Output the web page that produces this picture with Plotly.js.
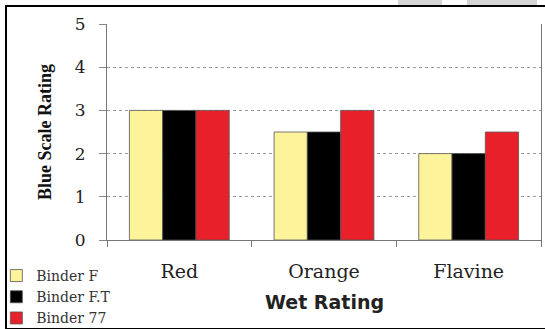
<!DOCTYPE html>
<html>
<head>
<meta charset="utf-8">
<script src="https://cdn.plot.ly/plotly-3.0.1.min.js"></script>
<style>
  html, body { margin: 0; padding: 0; background: #fff; }
  #wrap { position: relative; width: 545px; height: 329px; overflow: hidden; }
  #chart { position: absolute; left: 0; top: 0; width: 545px; height: 329px; }
  /* outer frame around the figure */
  #frame {
    position: absolute; left: 5px; top: 5px; width: 560px; height: 321px;
    border: 2px solid #000; pointer-events: none;
  }
  .tab { position: absolute; top: 0; height: 5px; background: #d4d4d4; }
</style>
</head>
<body>
<div id="wrap">
  <div id="chart"></div>
  <div id="frame"></div>
  <div class="tab" style="left:398px;width:44px"></div>
  <div class="tab" style="left:467px;width:70px"></div>
</div>
<script>
// Wet rating results on the blue scale, per dye and binder
const categories = ["Red", "Orange", "Flavine"];
const seriesNames = ["Binder F", "Binder F.T", "Binder 77"];
const binderF = [3, 2.5, 2];
const binderFT = [3, 2.5, 2];
const binder77 = [3, 3, 2.5];
const yTicks = [0, 1, 2, 3, 4, 5];
const xTitle = "Wet Rating";

const colors = ["#FDF39B", "#000000", "#E8202A"];
const values = [binderF, binderFT, binder77];

const traces = values.map((v, i) => ({
  type: "bar",
  name: seriesNames[i],
  x: categories,
  y: v,
  marker: { color: colors[i], line: { color: "#555", width: 0.8 } },
  hoverinfo: "skip"
}));

const serif = "DejaVu Serif, Liberation Serif, serif";

const layout = {
  width: 545,
  height: 329,
  margin: { l: 107, r: 4, t: 24, b: 89, autoexpand: false },
  paper_bgcolor: "#fff",
  plot_bgcolor: "#fff",
  barmode: "group",
  bargap: 0.31,
  bargroupgap: 0,
  showlegend: true,
  legend: {
    xref: "paper", yref: "paper",
    x: -0.255, y: -0.435, xanchor: "left", yanchor: "bottom",
    orientation: "v",
    font: { family: serif, size: 14, color: "#333" },
    bgcolor: "rgba(0,0,0,0)",
    itemwidth: 30,
    tracegroupgap: 0
  },
  // category-axis title, set just under the tick labels
  annotations: [{
    text: xTitle,
    xref: "paper", yref: "paper",
    x: 0.502, y: -0.287, xanchor: "center", yanchor: "middle",
    showarrow: false,
    font: { family: "DejaVu Sans, Arial, sans-serif", size: 19, color: "#222", weight: "bold" }
  }],
  xaxis: {
    type: "category",
    automargin: false,
    showline: true, linecolor: "#777", linewidth: 1,
    ticks: "outside", ticklen: 6, tickcolor: "#777",
    tickson: "boundaries",
    showgrid: false,
    tickfont: { family: serif, size: 19, color: "#222" },
    ticklabelstandoff: 14
  },
  yaxis: {
    range: [0, 5],
    automargin: false,
    tickvals: yTicks,
    ticktext: yTicks.map(String),
    showline: true, linecolor: "#777", linewidth: 1,
    mirror: true,
    ticks: "outside", ticklen: 7, tickcolor: "#888",
    ticklabelstandoff: 10,
    showgrid: true, gridcolor: "#999", gridwidth: 1, griddash: "dot",
    zeroline: false,
    tickfont: { family: serif, size: 17, color: "#222" },
    title: {
      text: "Blue Scale Rating",
      font: { family: "Liberation Serif, serif", size: 18, color: "#111", weight: "bold" },
      standoff: 18
    }
  }
};

Plotly.newPlot("chart", traces, layout, { displayModeBar: false, staticPlot: true });
</script>
</body>
</html>
